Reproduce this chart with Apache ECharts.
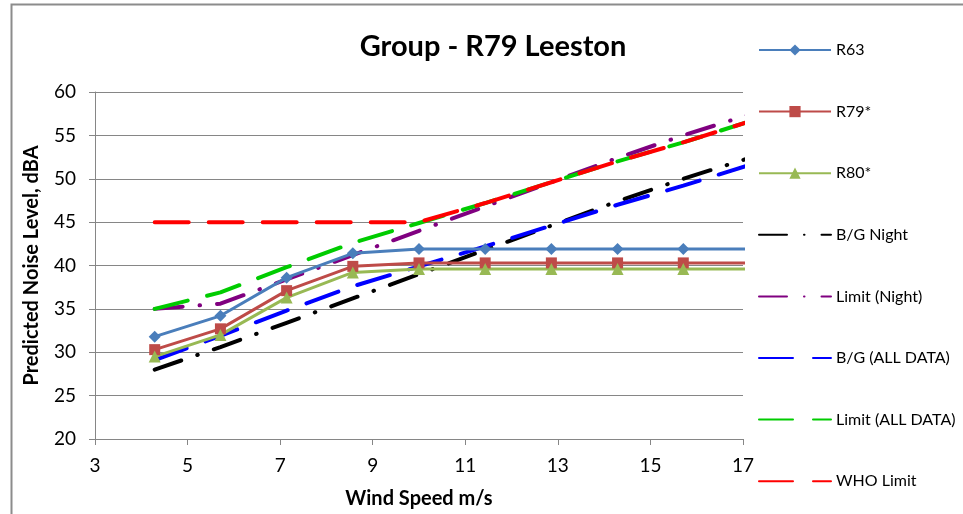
<!DOCTYPE html>
<html>
<head>
<meta charset="utf-8">
<script src="https://cdn.jsdelivr.net/npm/echarts@6/dist/echarts.min.js"></script>
<style>
  html, body { margin: 0; padding: 0; background: #fff; }
  #chart { width: 963px; height: 514px; }
</style>
</head>
<body>
<div id="chart"></div>
<script>
// wind speeds (m/s)
const windSpeed = [4.29, 5.71, 7.14, 8.57, 10, 11.43, 12.86, 14.29, 15.71, 17.14]

// predicted levels, dBA
const r63 = [31.8, 34.2, 38.6, 41.4, 41.9, 41.9, 41.9, 41.9, 41.9, 41.9]
const r79 = [30.3, 32.7, 37.1, 39.9, 40.3, 40.3, 40.3, 40.3, 40.3, 40.3]
const r80 = [29.5, 32.0, 36.3, 39.2, 39.6, 39.6, 39.6, 39.6, 39.6, 39.6]
const bgNight = [28.0, 30.6, 33.4, 36.2, 39.0, 41.8, 44.6, 47.4, 50.0, 52.4]
const limitNight = [35.0, 35.6, 38.4, 41.2, 44.0, 46.8, 49.6, 52.4, 55.0, 57.4]
const bgAll = [29.1, 31.9, 34.8, 37.6, 39.9, 42.2, 44.6, 47.0, 49.2, 51.6]
const limitAll = [35.0, 36.9, 39.8, 42.6, 44.9, 47.2, 49.6, 52.0, 54.2, 56.6]
const whoLimit = [45.0, 45.0, 45.0, 45.0, 45.0, 47.2, 49.6, 52.0, 54.2, 56.6]

const xTicks = [3, 17, 2]   // min, max, interval
const yTicks = [20, 60, 5]

const font = 'Lato, "Open Sans", sans-serif'
const axisGray = '#868686'

function pairs (ys) {
  return windSpeed.map((x, i) => [x, ys[i]])
}

function markerLine (name, data, color, symbol, size) {
  return {
    name,
    type: 'line',
    data: pairs(data),
    symbol,
    symbolSize: size,
    showSymbol: true,
    itemStyle: { color },
    lineStyle: { color, width: 3 },
    z: 5
  }
}

function dashLine (name, data, color, dash) {
  return {
    name,
    type: 'line',
    data: pairs(data),
    symbol: 'none',
    itemStyle: { color },
    lineStyle: { color, width: 4, type: dash, cap: 'round' },
    z: 3
  }
}

const dashDot = [28, 17, 0.5, 17]
const longDash = [34, 20]

const names = ['R63', 'R79*', 'R80*', 'B/G Night', 'Limit (Night)', 'B/G (ALL DATA)', 'Limit (ALL DATA)', 'WHO Limit']
// dashed series get no marker in the legend
const legendData = names.map((n, i) => i < 3 ? n : { name: n, itemStyle: { color: 'rgba(0,0,0,0)' } })

const chart = echarts.init(document.getElementById('chart'))

chart.setOption({
  animation: false,
  textStyle: { fontFamily: font },
  title: {
    text: 'Group - R79 Leeston',
    left: 488,
    textAlign: 'center',
    top: 27,
    textStyle: { fontSize: 29, fontWeight: 'bold', color: '#000', fontFamily: font }
  },
  graphic: [{
    type: 'rect',
    shape: { x: 11.5, y: 4.5, width: 960, height: 520 },
    style: { fill: 'none', stroke: '#8c8c8c', lineWidth: 2 },
    silent: true
  }],
  grid: { left: 95, right: 220, top: 92, bottom: 74 },
  legend: {
    orient: 'vertical',
    left: 753,
    top: 37,
    itemWidth: 72,
    itemHeight: 14,
    itemGap: 45.6,
    textStyle: { fontSize: 16, color: '#000', fontFamily: font },
    data: legendData
  },
  xAxis: {
    type: 'value',
    min: xTicks[0],
    max: xTicks[1],
    interval: xTicks[2],
    name: 'Wind Speed m/s',
    nameLocation: 'middle',
    nameGap: 50,
    nameTextStyle: { fontSize: 20, fontWeight: 'bold', color: '#000', fontFamily: font },
    axisLine: { lineStyle: { color: axisGray, width: 1 } },
    axisTick: { show: true, length: 6, lineStyle: { color: axisGray } },
    axisLabel: { fontSize: 19, color: '#000', margin: 17, fontFamily: font },
    splitLine: { show: false }
  },
  yAxis: {
    type: 'value',
    min: yTicks[0],
    max: yTicks[1],
    interval: yTicks[2],
    name: 'Predicted Noise Level, dBA',
    nameLocation: 'middle',
    nameGap: 53,
    nameTextStyle: { fontSize: 20, fontWeight: 'bold', color: '#000', fontFamily: font },
    axisLine: { show: true, lineStyle: { color: axisGray, width: 1 } },
    axisTick: { show: true, length: 6, lineStyle: { color: axisGray } },
    axisLabel: { fontSize: 19, color: '#000', margin: 19, fontFamily: font },
    splitLine: { show: true, lineStyle: { color: axisGray, width: 1 } }
  },
  series: [
    markerLine(names[0], r63, '#4A7EBB', 'diamond', 12),
    markerLine(names[1], r79, '#BE4B48', 'rect', 11),
    markerLine(names[2], r80, '#98B954', 'triangle', 12),
    dashLine(names[3], bgNight, '#000000', dashDot),
    dashLine(names[4], limitNight, '#800080', dashDot),
    dashLine(names[5], bgAll, '#0000FF', longDash),
    dashLine(names[6], limitAll, '#00CC00', longDash),
    dashLine(names[7], whoLimit, '#FF0000', longDash)
  ]
})
</script>
</body>
</html>
